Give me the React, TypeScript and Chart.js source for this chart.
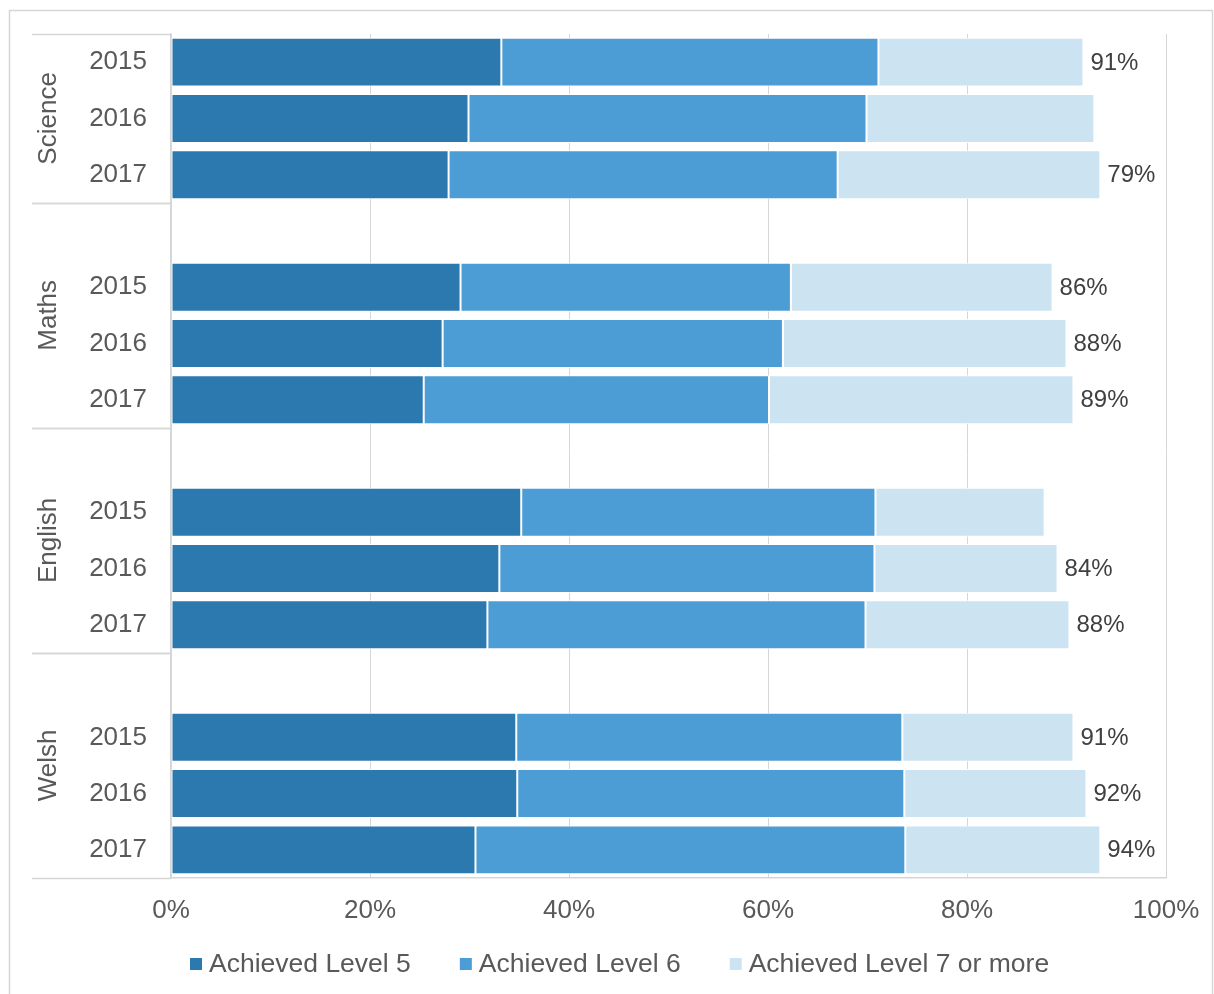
import { useEffect, useRef } from 'react';
import { Chart, registerables } from 'chart.js';

Chart.register(...registerables);

// Subjects (groups) and the years shown inside each group
const subjects = ['Science', 'Maths', 'English', 'Welsh'];
const years = ['2015', '2016', '2017'];

// Percentage of pupils per level, ordered subject by subject, then year
const level5 = [33.2, 29.9, 27.9, 29.1, 27.3, 25.4, 35.2, 33.0, 31.8, 34.7, 34.8, 30.6];
const level6 = [37.9, 40.0, 39.1, 33.2, 34.2, 34.7, 35.6, 37.7, 38.0, 38.8, 38.9, 43.2];
const level7 = [20.6, 22.9, 26.4, 26.3, 28.5, 30.6, 17.0, 18.4, 20.5, 17.2, 18.3, 19.6];

// Figures printed at the end of each bar (null = no figure shown)
const endLabels: (number | null)[] = [91, null, 79, 86, 88, 89, null, 84, 88, 91, 92, 94];

const xTicks = [0, 20, 40, 60, 80, 100];
const seriesNames = ['Achieved Level 5', 'Achieved Level 6', 'Achieved Level 7 or more'];
const seriesColors = ['#2C79B0', '#4C9DD5', '#CCE3F2'];

const FONT = '"Liberation Sans", Arial, sans-serif';
const TEXT = '#595959';
const LINE = '#D6D6D6';

type Row = { label: string; src: number | null; group: number };

// One blank spacer row in front of every group except the first
const rows: Row[] = [];
subjects.forEach((_, si) => {
  if (si > 0) rows.push({ label: '', src: null, group: si });
  years.forEach((y, yi) => rows.push({ label: y, src: si * 3 + yi, group: si }));
});

const pick = (arr: number[]) => rows.map((r) => (r.src === null ? null : arr[r.src]));

const decorations = {
  id: 'decorations',
  afterDraw(chart: any) {
    const { ctx, chartArea } = chart;
    const yScale = chart.scales.y;
    const band = (chartArea.bottom - chartArea.top) / rows.length;
    const axisLeft = 32;

    ctx.save();

    // Outer frame
    ctx.strokeStyle = LINE;
    ctx.lineWidth = 1.5;
    ctx.strokeRect(9.5, 10.5, 1203, 1000);

    // Group separators on the category axis + rotated subject names
    ctx.lineWidth = 1.5;
    ctx.strokeStyle = LINE;
    subjects.forEach((name, si) => {
      const idx = rows.map((r, i) => (r.group === si ? i : -1)).filter((i) => i >= 0);
      const top = yScale.getPixelForValue(idx[0]) - band / 2;
      const bottom = yScale.getPixelForValue(idx[idx.length - 1]) + band / 2;
      ctx.beginPath();
      ctx.moveTo(axisLeft, Math.round(top) + 0.5);
      ctx.lineTo(chartArea.left, Math.round(top) + 0.5);
      ctx.moveTo(axisLeft, Math.round(bottom) + 0.5);
      ctx.lineTo(chartArea.left, Math.round(bottom) + 0.5);
      ctx.stroke();

      ctx.save();
      ctx.translate(48.5, (top + bottom) / 2);
      ctx.rotate(-Math.PI / 2);
      ctx.fillStyle = TEXT;
      ctx.font = `26px ${FONT}`;
      ctx.textAlign = 'center';
      ctx.textBaseline = 'middle';
      ctx.fillText(name, 0, 0);
      ctx.restore();
    });

    // Figures at the end of the bars
    const meta = chart.getDatasetMeta(2);
    ctx.fillStyle = '#404040';
    ctx.font = `24px ${FONT}`;
    ctx.textAlign = 'left';
    ctx.textBaseline = 'middle';
    rows.forEach((r, i) => {
      if (r.src === null) return;
      const v = endLabels[r.src];
      if (v === null) return;
      const el = meta.data[i];
      ctx.fillText(`${v}%`, el.x + 7, el.y + 1);
    });

    // Legend
    ctx.font = `26.5px ${FONT}`;
    const box = 12;
    const gap = 7;
    const spacing = 49;
    const widths = seriesNames.map((n) => ctx.measureText(n).width);
    let x = 190;
    const ly = 964;
    seriesNames.forEach((n, i) => {
      ctx.fillStyle = seriesColors[i];
      ctx.fillRect(x, ly - 6, box, box);
      ctx.fillStyle = TEXT;
      ctx.textBaseline = 'middle';
      ctx.fillText(n, x + box + gap, ly + 1);
      x += box + gap + widths[i] + spacing;
    });

    ctx.restore();
  },
};

export default function App() {
  const canvasRef = useRef<HTMLCanvasElement | null>(null);

  useEffect(() => {
    const canvas = canvasRef.current;
    if (!canvas) return;
    const levels = [level5, level6, level7];
    const chart = new Chart(canvas, {
      type: 'bar',
      data: {
        labels: rows.map((r) => r.label),
        datasets: levels.map((lv, i) => ({
          label: seriesNames[i],
          data: pick(lv),
          backgroundColor: seriesColors[i],
          borderColor: '#FFFFFF',
          borderWidth: 1,
          borderSkipped: false,
          barPercentage: 0.87,
          categoryPercentage: 1,
        })),
      },
      options: {
        indexAxis: 'y',
        responsive: false,
        animation: false,
        devicePixelRatio: 1,
        layout: { padding: { top: 34, right: 48, left: 0, bottom: 0 } },
        plugins: {
          legend: { display: false },
          tooltip: { enabled: false },
        },
        scales: {
          x: {
            stacked: true,
            min: 0,
            max: 100,
            afterBuildTicks: (scale: any) => {
              scale.ticks = xTicks.map((v) => ({ value: v }));
            },
            afterFit: (scale: any) => {
              scale.height = 116;
              scale.paddingLeft = 0;
              scale.paddingRight = 0;
            },
            ticks: {
              callback: (v: any) => `${v}%`,
              color: TEXT,
              font: { family: FONT, size: 26 },
              padding: 17,
              maxRotation: 0,
            },
            grid: { color: LINE, lineWidth: 1, drawTicks: false },
            border: { display: true, color: LINE, width: 1.5 },
          },
          y: {
            stacked: true,
            afterFit: (scale: any) => {
              scale.width = 171;
              scale.paddingTop = 0;
              scale.paddingBottom = 0;
            },
            ticks: {
              color: TEXT,
              font: { family: FONT, size: 26 },
              padding: 24,
              autoSkip: false,
            },
            grid: { display: false, drawTicks: false },
            border: { display: true, color: LINE, width: 1.5 },
          },
        },
      },
      plugins: [decorations],
    });
    return () => chart.destroy();
  }, []);

  return (
    <div style={{ position: 'fixed', left: 0, top: 0, width: 1214, height: 994, background: '#fff' }}>
      <canvas ref={canvasRef} width={1214} height={994} style={{ display: 'block' }} />
    </div>
  );
}
